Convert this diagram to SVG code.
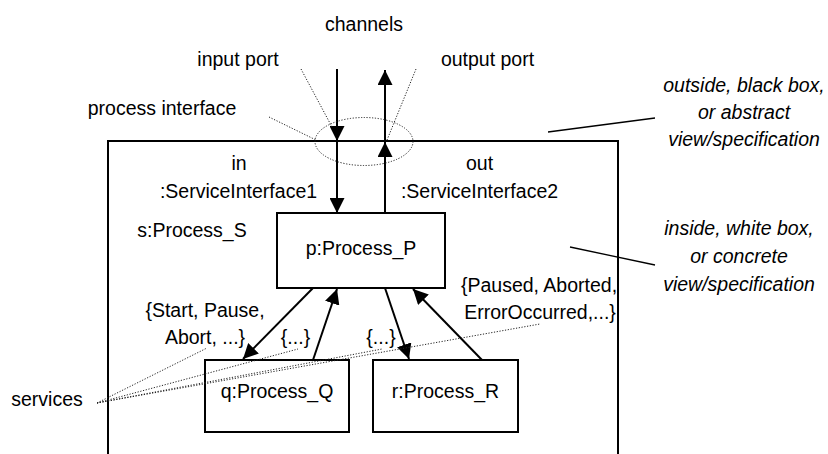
<svg xmlns="http://www.w3.org/2000/svg" width="828" height="454" viewBox="0 0 828 454">
  <style>
    text { font-family: "Liberation Sans", Arial, sans-serif; font-size: 19.5px; fill: #000; }
    .c { text-anchor: middle; }
    .it { font-style: italic; text-anchor: middle; }
    .box { fill: #fff; stroke: #000; stroke-width: 2; }
    .edge { fill: none; stroke: #000; stroke-width: 2; }
    .thin { fill: none; stroke: #000; stroke-width: 1.3; }
    .dot { fill: none; stroke: #222; stroke-width: 1; stroke-dasharray: 1.2 1.6; }
  </style>
  <defs>
    <marker id="head" viewBox="0 0 15 15" refX="15" refY="7.5" markerWidth="15" markerHeight="15" markerUnits="userSpaceOnUse" orient="auto">
      <path d="M0,0 L15,7.5 L0,15 Z" fill="#000"/>
    </marker>
  </defs>
  <rect width="828" height="454" fill="#fff"/>

  <!-- enclosing process s (open at the bottom) -->
  <g id="process-s">
    <path class="edge" d="M108,458 V141 H618 V458"/>
    <text x="192" y="237" class="c">s:Process_S</text>
    <text x="239" y="170" class="c">in</text>
    <text x="238.5" y="198" class="c">:ServiceInterface1</text>
    <text x="479.5" y="170" class="c">out</text>
    <text x="479.5" y="198" class="c">:ServiceInterface2</text>
  </g>

  <g id="process-p">
    <rect class="box" x="277" y="213" width="168" height="75"/>
    <text x="361" y="255" class="c">p:Process_P</text>
  </g>
  <g id="process-q">
    <rect class="box" x="205" y="360" width="144" height="72"/>
    <text x="277" y="398" class="c">q:Process_Q</text>
  </g>
  <g id="process-r">
    <rect class="box" x="373" y="360" width="145" height="72"/>
    <text x="445.5" y="398" class="c">r:Process_R</text>
  </g>

  <!-- channels and service connections -->
  <g id="connectors">
    <line class="edge" x1="337" y1="69" x2="337" y2="141" marker-end="url(#head)"/>
    <line class="edge" x1="337" y1="141" x2="337" y2="213" marker-end="url(#head)"/>
    <line class="edge" x1="385" y1="213" x2="385" y2="142" marker-end="url(#head)"/>
    <line class="edge" x1="385" y1="142" x2="385" y2="70" marker-end="url(#head)"/>
    <line class="edge" x1="313" y1="288" x2="243" y2="359" marker-end="url(#head)"/>
    <line class="edge" x1="313" y1="360" x2="337" y2="289" marker-end="url(#head)"/>
    <line class="edge" x1="385" y1="288" x2="409" y2="359" marker-end="url(#head)"/>
    <line class="edge" x1="482" y1="360" x2="413" y2="289" marker-end="url(#head)"/>
  </g>

  <!-- service labels -->
  <g id="service-labels">
    <text x="205" y="317" class="c">{Start, Pause,</text>
    <text x="205" y="344" class="c">Abort, ...}</text>
    <text x="295.5" y="344" class="c">{...}</text>
    <text x="381" y="344" class="c">{...}</text>
    <text x="539" y="292" class="c">{Paused, Aborted,</text>
    <text x="540" y="319" class="c">ErrorOccurred,...}</text>
  </g>

  <!-- annotations -->
  <g id="annotations">
    <text x="364" y="31" class="c">channels</text>
    <text x="238" y="66" class="c">input port</text>
    <text x="487.5" y="66" class="c">output port</text>
    <text x="162" y="115" class="c">process interface</text>
    <text x="47" y="406" class="c">services</text>
    <ellipse class="dot" cx="364" cy="141.5" rx="49" ry="24"/>
    <line class="dot" x1="301" y1="69" x2="332" y2="127"/>
    <line class="dot" x1="416" y1="69" x2="387" y2="140"/>
    <line class="dot" x1="269" y1="117" x2="316" y2="140"/>
    <line class="dot" x1="97" y1="403" x2="207" y2="348"/>
    <line class="dot" x1="97" y1="403" x2="298" y2="349"/>
    <line class="dot" x1="97" y1="403" x2="382" y2="349"/>
    <line class="dot" x1="97" y1="403" x2="540" y2="324"/>

    <line class="thin" x1="548" y1="132" x2="655" y2="118"/>
    <text x="744" y="92" class="it">outside, black box,</text>
    <text x="744" y="119" class="it">or abstract</text>
    <text x="744" y="146" class="it">view/specification</text>

    <line class="thin" x1="570" y1="247" x2="655" y2="265"/>
    <text x="739" y="235" class="it">inside, white box,</text>
    <text x="739" y="263" class="it">or concrete</text>
    <text x="739" y="291" class="it">view/specification</text>
  </g>
</svg>
